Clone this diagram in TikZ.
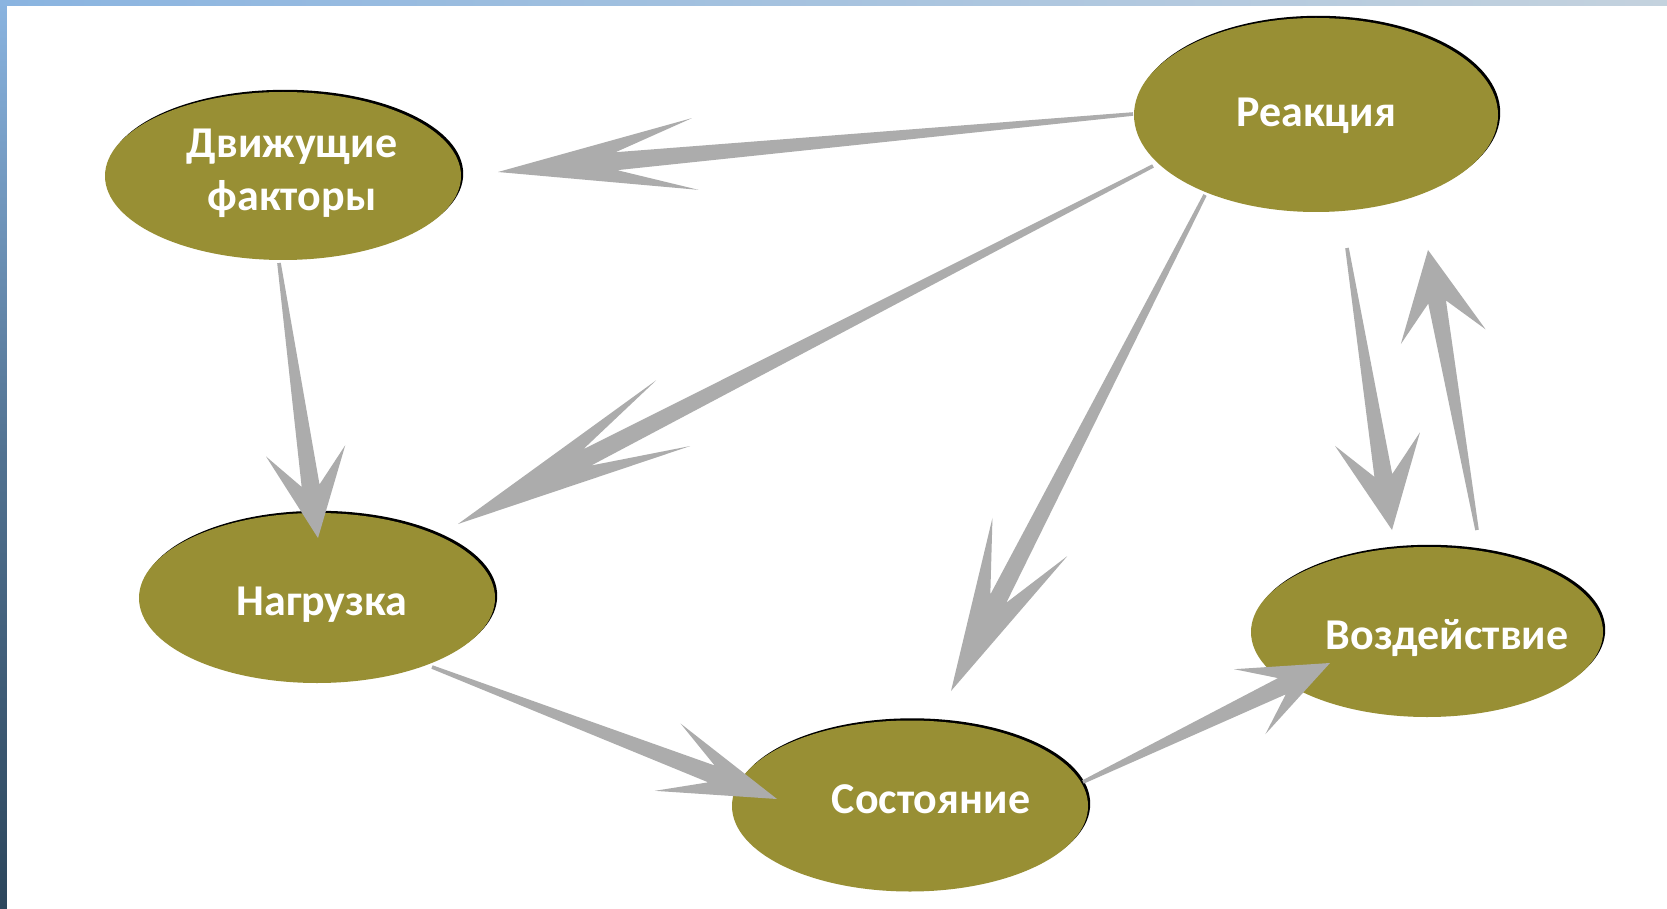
\documentclass[tikz,border=0pt]{standalone}
\usepackage{fontspec}
\setsansfont{Carlito}
\usepackage{xcolor}
\definecolor{colorNode}{RGB}{152,143,52}
\definecolor{colorArrow}{RGB}{172,172,172}
\definecolor{colorSky}{RGB}{138,180,224}
\definecolor{colorHaze}{RGB}{196,210,222}
\definecolor{colorSea}{RGB}{44,70,92}
\usetikzlibrary{calc, shapes.geometric, shadows}
\tikzset{
  blob/.style={ellipse, fill=colorNode, inner sep=0pt,
    general shadow={fill=black, shadow xshift=2.2pt, shadow yshift=2.2pt}},
  lbl/.style={text=white, inner sep=0pt, align=center,
    font=\sffamily\bfseries\fontsize{44}{53}\selectfont}
}
% tapered arrow: start, tip, head length, barb half width
\newcommand{\tarrow}[4]{%
  \coordinate (ts) at #1;
  \coordinate (tt) at #2;
  \coordinate (tb) at ($(tt)!#3pt!(ts)$);
  \coordinate (tn) at ($(tt)!0.6*#3pt!(ts)$);
  \fill[colorArrow]
    ($(ts)!1.8pt!90:(tt)$) -- ($(tn)!9pt!90:(tt)$) -- ($(tb)!#4pt!90:(tt)$)
    -- (tt) -- ($(tb)!#4pt!-90:(tt)$) -- ($(tn)!9pt!-90:(tt)$)
    -- ($(ts)!1.8pt!-90:(tt)$) -- cycle;
}

\begin{document}
\begin{tikzpicture}[x=1pt, y=-1pt]
\useasboundingbox (0,0) rectangle (1667,909);
% backdrop
\shade[top color=colorSky, bottom color=colorSea, middle color=colorSea!60!colorSky] (0,0) rectangle (7,909);
\shade[left color=colorSky, right color=colorHaze] (0,0) rectangle (1667,6);
\fill[white] (7,6) rectangle (1667,909);

\node[blob, minimum width=356pt, minimum height=168pt, label={[lbl, xshift=9pt, yshift=3pt]center:Движущие\\факторы}] (drv) at (283,176) {};
\node[blob, minimum width=364pt, minimum height=194pt, label={[lbl, yshift=-1pt]center:Реакция}] (rea) at (1316,115) {};
\node[blob, minimum width=356pt, minimum height=170pt, label={[lbl, xshift=5pt, yshift=-7pt]center:Нагрузка}] (load) at (317,598) {};
\node[blob, minimum width=356pt, minimum height=171pt, label={[lbl, xshift=21pt, yshift=7pt]center:Состояние}] (state) at (910,806) {};
\node[blob, minimum width=352pt, minimum height=170pt, label={[lbl, xshift=20pt, yshift=-6pt]center:Воздействие}] (act) at (1427,632) {};

\tarrow{($(rea)+(-183,-1)$)}{($(drv)+(215,-4)$)}{198}{36}
\tarrow{($(rea)+(-163,51)$)}{($(load)+(141,-74)$)}{242}{37}
\tarrow{($(rea)+(-111,80)$)}{($(state)+(41,-115)$)}{173}{42}
\tarrow{($(drv)+(-4,87)$)}{($(load)+(1,-60)$)}{88}{40}
\tarrow{($(load)+(115,69)$)}{($(state)+(-133,-7)$)}{117}{36}
\tarrow{($(state)+(173,-24)$)}{($(act)+(-97,31)$)}{89}{36}
\tarrow{($(rea)+(31,133)$)}{($(act)+(-35,-102)$)}{92}{43}
\tarrow{($(act)+(50,-102)$)}{($(rea)+(112,135)$)}{88}{43}
\end{tikzpicture}
\end{document}
